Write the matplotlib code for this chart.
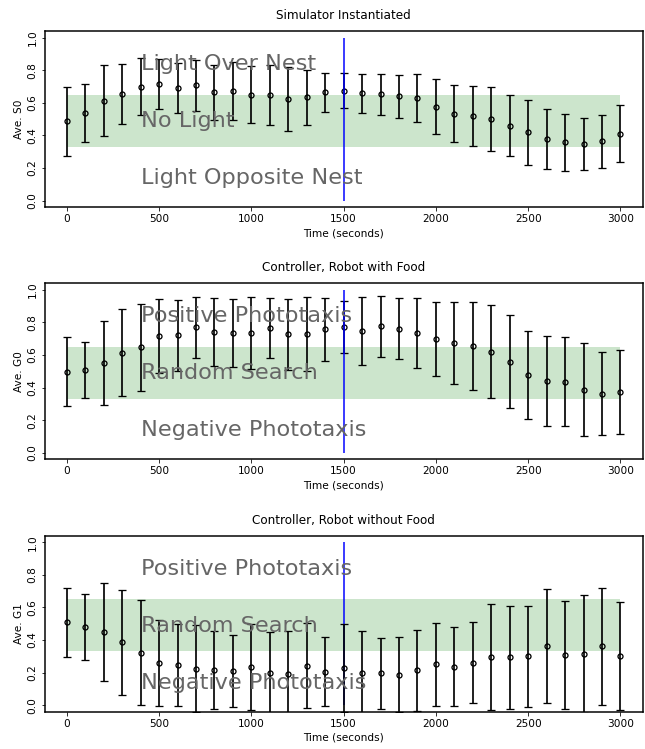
import numpy as np
import matplotlib
matplotlib.use("Agg")
import matplotlib.pyplot as plt

# time axis (seconds)
times = np.arange(0, 3001, 100)

# Simulator Instantiated
s0_mean = [0.486, 0.535, 0.612, 0.655, 0.698, 0.716, 0.690, 0.706, 0.663, 0.669,
           0.649, 0.647, 0.622, 0.633, 0.665, 0.673, 0.657, 0.651, 0.639, 0.631,
           0.576, 0.533, 0.518, 0.500, 0.459, 0.418, 0.376, 0.357, 0.345, 0.363, 0.410]
s0_std = [0.210, 0.177, 0.219, 0.184, 0.175, 0.155, 0.151, 0.157, 0.166, 0.178,
          0.175, 0.184, 0.198, 0.169, 0.119, 0.107, 0.119, 0.125, 0.134, 0.147,
          0.171, 0.175, 0.186, 0.198, 0.188, 0.198, 0.183, 0.176, 0.159, 0.164, 0.174]

# Controller, Robot with Food
g0_mean = [0.498, 0.508, 0.551, 0.614, 0.647, 0.716, 0.720, 0.769, 0.739, 0.737,
           0.735, 0.765, 0.727, 0.729, 0.757, 0.773, 0.747, 0.776, 0.761, 0.733,
           0.696, 0.673, 0.655, 0.620, 0.559, 0.478, 0.441, 0.437, 0.388, 0.361, 0.373]
g0_std = [0.214, 0.172, 0.255, 0.268, 0.267, 0.227, 0.219, 0.188, 0.208, 0.208,
          0.220, 0.186, 0.218, 0.226, 0.192, 0.158, 0.208, 0.187, 0.188, 0.214,
          0.228, 0.254, 0.269, 0.284, 0.284, 0.271, 0.275, 0.271, 0.283, 0.255, 0.260]

# Controller, Robot without Food
g1_mean = [0.508, 0.480, 0.449, 0.386, 0.322, 0.257, 0.245, 0.224, 0.216, 0.208,
           0.235, 0.198, 0.192, 0.243, 0.206, 0.227, 0.200, 0.196, 0.188, 0.214,
           0.251, 0.237, 0.261, 0.294, 0.294, 0.300, 0.363, 0.308, 0.316, 0.363, 0.302]
g1_std = [0.212, 0.204, 0.302, 0.322, 0.321, 0.263, 0.251, 0.266, 0.239, 0.221,
          0.263, 0.253, 0.265, 0.261, 0.212, 0.269, 0.255, 0.218, 0.228, 0.249,
          0.255, 0.243, 0.249, 0.324, 0.316, 0.310, 0.347, 0.333, 0.362, 0.359, 0.331]

titles = ["Simulator Instantiated", "Controller, Robot with Food", "Controller, Robot without Food"]
ylabels = ["Ave. S0", "Ave. G0", "Ave. G1"]
region_labels = [
    ["Light Over Nest", "No Light", "Light Opposite Nest"],
    ["Positive Phototaxis", "Random Search", "Negative Phototaxis"],
    ["Positive Phototaxis", "Random Search", "Negative Phototaxis"],
]
label_x = 400
label_y = [0.8, 0.45, 0.1]
band_low, band_high = 0.33, 0.65
switch_time = 1500

means = [s0_mean, g0_mean, g1_mean]
stds = [s0_std, g0_std, g1_std]

fig = plt.figure(figsize=(645 / 72, 749 / 72), dpi=72)
bottoms = [0.7236, 0.3868, 0.0498]
blue_on_top = [True, True, False]

for i in range(3):
    ax = fig.add_axes([0.0693, bottoms[i], 0.927, 0.235])
    ax.fill_between(times, band_low, band_high, color='g', alpha=0.2, linewidth=0)
    ax.vlines(switch_time, 0, 1, color='b', linewidth=1.5, zorder=4 if blue_on_top[i] else 2)
    ax.errorbar(times, means[i], yerr=stds[i], fmt='o', color='k', mfc='none',
                markersize=5, mew=1.3, elinewidth=1.7, capsize=4, capthick=1.7, zorder=3)
    for lab, ly in zip(region_labels[i], label_y):
        ax.text(label_x, ly, lab, fontsize=22.4, color='#666666', zorder=5)
    ax.set_xlim(-120, 3120)
    ax.set_ylim(-0.04, 1.04)
    ax.set_xticks(np.arange(0, 3001, 500))
    ax.set_yticks(np.arange(0, 1.01, 0.2))
    plt.setp(ax.get_yticklabels(), rotation=90, va='center')
    ax.set_title(titles[i], fontsize=12, pad=12)
    ax.set_ylabel(ylabels[i], fontsize=10.5)
    ax.set_xlabel('Time (seconds)', fontsize=10.5)
    ax.tick_params(labelsize=10.5)
    for sp in ax.spines.values():
        sp.set_linewidth(1.5)

fig.savefig('out.png', dpi=72)
